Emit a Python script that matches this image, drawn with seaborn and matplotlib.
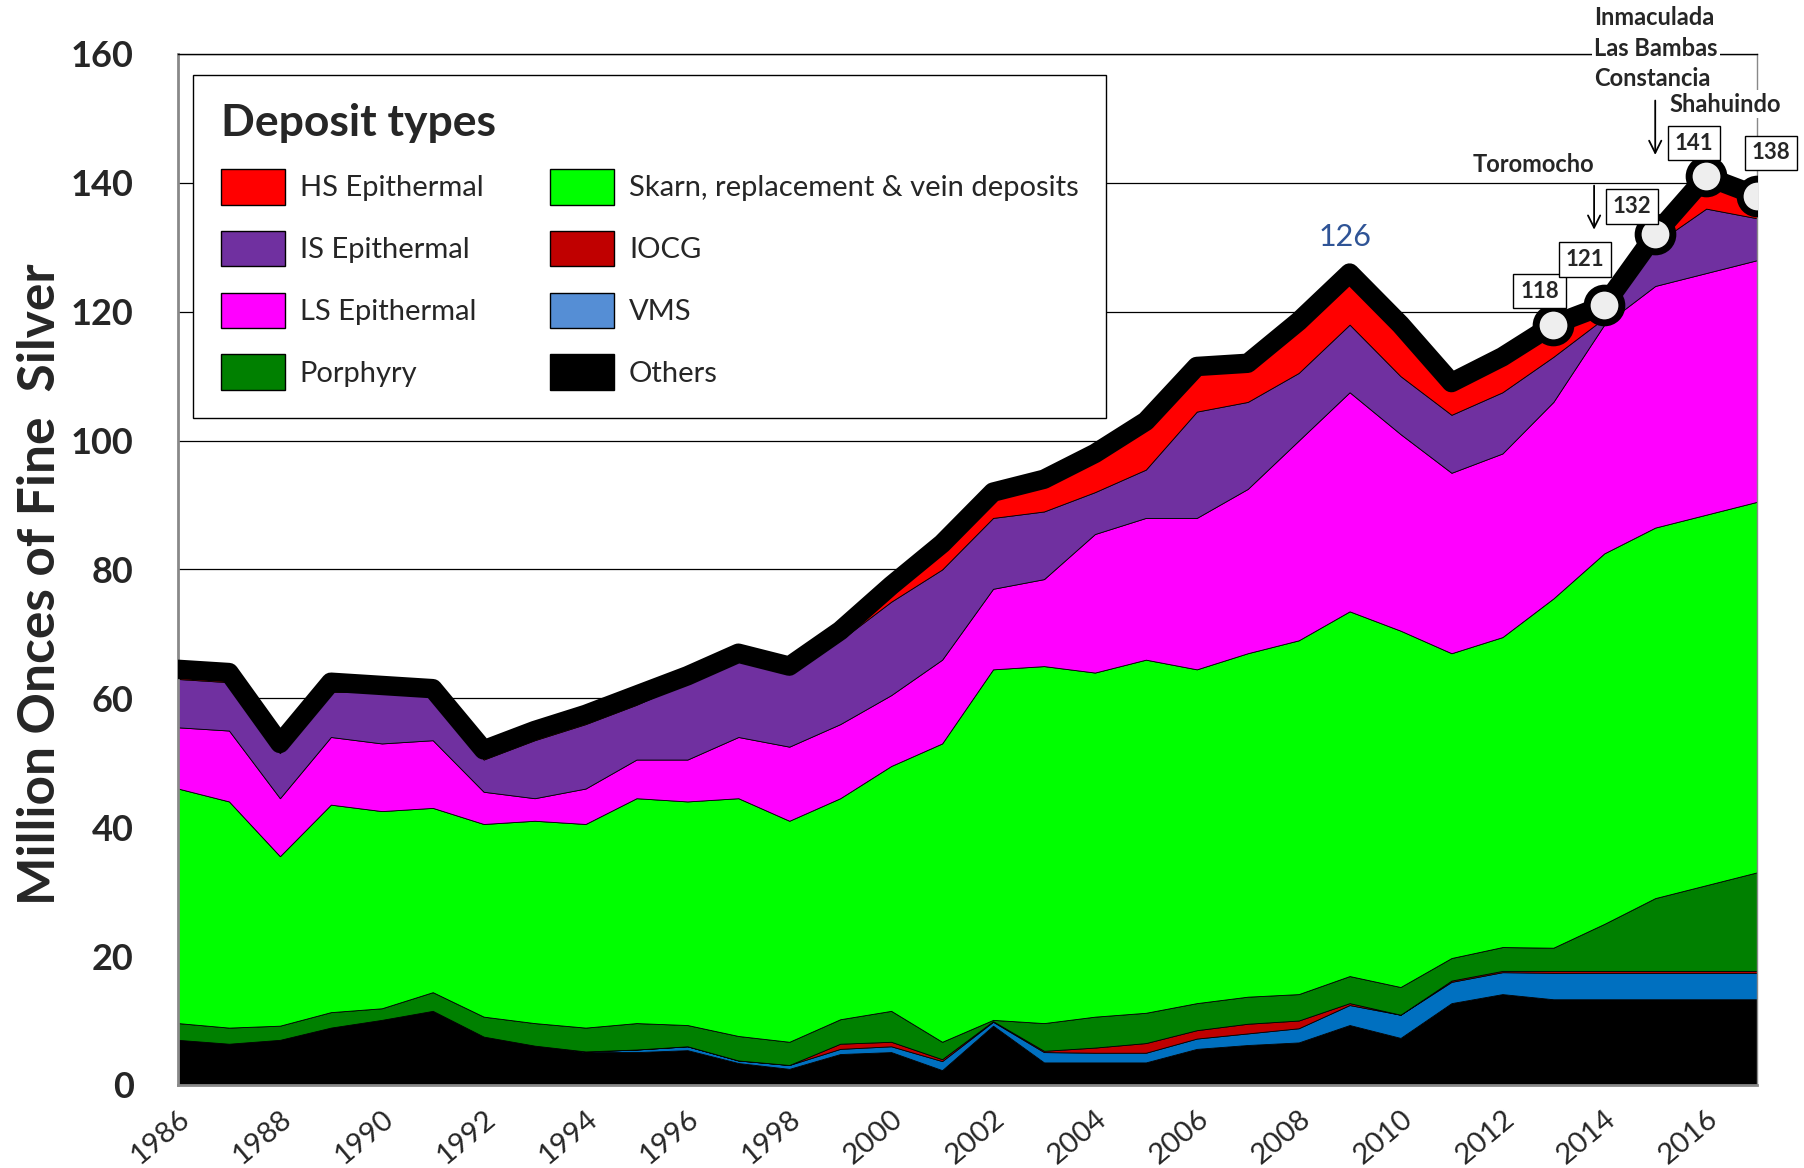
import matplotlib
matplotlib.use("Agg")
import matplotlib.pyplot as plt
from matplotlib.patches import Patch
import seaborn as sns

# Peruvian silver production by deposit type (million ounces)
years = list(range(1986, 2018))
others = [7.0, 6.4, 7.0, 8.9, 10.1, 11.5, 7.5, 6.1, 5.1, 5.1, 5.4, 3.4, 2.5, 4.8, 5.1, 2.3,
          9.2, 3.5, 3.5, 3.5, 5.6, 6.2, 6.6, 9.3, 7.3, 12.7, 14.1, 13.3, 13.3, 13.3, 13.3, 13.3]
vms = [0, 0, 0, 0, 0, 0, 0, 0, 0.1, 0.4, 0.6, 0.4, 0.6, 0.8, 0.9, 1.4,
       0.6, 1.6, 1.5, 1.5, 1.6, 1.8, 2.2, 3.1, 3.6, 3.3, 3.4, 4.1, 4.1, 4.1, 4.1, 4.1]
iocg = [0, 0, 0, 0, 0, 0, 0, 0, 0, 0, 0, 0, 0, 0.8, 0.7, 0.3,
        0.1, 0.2, 0.8, 1.5, 1.3, 1.5, 1.2, 0.3, 0, 0.2, 0.2, 0.3, 0.3, 0.3, 0.3, 0.3]
porphyry = [2.6, 2.5, 2.2, 2.4, 1.8, 2.9, 3.1, 3.5, 3.7, 4.1, 3.3, 3.8, 3.6, 3.8, 4.8, 2.7,
            0.2, 4.3, 4.8, 4.7, 4.2, 4.2, 4.1, 4.2, 4.3, 3.5, 3.7, 3.6, 7.3, 11.3, 13.3, 15.3]
skarn = [36.4, 35.1, 26.3, 32.2, 30.6, 28.6, 29.9, 31.4, 31.6, 34.9, 34.7, 36.9, 34.3, 34.3, 38.0, 46.3,
         54.4, 55.4, 53.4, 54.8, 51.8, 53.3, 54.9, 56.6, 55.3, 47.3, 48.1, 54.2, 57.5, 57.5, 57.5, 57.5]
ls_epi = [9.5, 11, 9, 10.5, 10.5, 10.5, 5, 3.5, 5.5, 6, 6.5, 9.5, 11.5, 11.5, 11, 13,
          12.5, 13.5, 21.5, 22, 23.5, 25.5, 31, 34, 30.5, 28, 28.5, 30.5, 35.5, 37.5, 37.5, 37.5]
is_epi = [7.5, 7.5, 7, 7, 8, 7, 5, 9, 10, 8.5, 12, 12, 11.5, 13, 14.5, 14,
          11, 10.5, 6.5, 7.5, 16.5, 13.5, 10.5, 10.5, 9, 9, 9.5, 7, 1, 6.5, 10, 6.5]
hs_epi = [1.5, 1.5, 1.5, 1.5, 1, 1, 1.5, 1.5, 1.5, 1.5, 1, 1, 1, 1.5, 2.5, 4,
          4, 5, 6, 7.5, 7, 6, 8, 8, 8, 5, 5.5, 5, 2, 1.5, 5, 3.5]

layers = [others, vms, iocg, porphyry, skarn, ls_epi, is_epi, hs_epi]
total = [sum(v) for v in zip(*layers)]

# legend order (column by column) and colours
legend_names = ["HS Epithermal", "IS Epithermal", "LS Epithermal", "Porphyry",
                "Skarn, replacement & vein deposits", "IOCG", "VMS", "Others"]
legend_colors = ["#FF0000", "#7030A0", "#FF00FF", "#008000",
                 "#00FF00", "#C00000", "#558ED5", "#000000"]
layer_colors = ["#000000", "#0070C0", "#C00000", "#008000",
                "#00FF00", "#FF00FF", "#7030A0", "#FF0000"]

recent_years = years[-5:]
recent_total = total[-5:]
label_offsets = [(-10, 24), (-14, 33), (-17, 20), (-9, 24), (10, 31)]

sns.set_style("white")
plt.rcParams["font.family"] = ["Lato", "DejaVu Sans"]

fig = plt.figure(figsize=(18.04, 11.68), dpi=100)
ax = fig.add_axes([0.0987, 0.0711, 0.8753, 0.8827])

ax.stackplot(years, *layers, colors=layer_colors, edgecolor="black", linewidth=0.6, zorder=2)

# total line with thick black outline
sns.lineplot(x=years, y=total, color="black", lw=14, ax=ax, legend=False,
             solid_joinstyle="round", zorder=3)
ax.plot(recent_years, recent_total, "o", ms=25, mfc="#EEEEEE", mec="black", mew=5,
        ls="none", zorder=4)

for x, y, (dx, dy) in zip(recent_years, recent_total, label_offsets):
    ax.annotate(f"{y:.0f}", (x, y), xytext=(dx, dy), textcoords="offset points",
                ha="center", va="center", fontsize=16, fontweight="bold",
                bbox=dict(boxstyle="square,pad=0.3", fc="white", ec="black", lw=1),
                zorder=6, annotation_clip=False)

peak_i = years.index(2009)
ax.annotate(f"{total[peak_i]:.0f}", (years[peak_i], total[peak_i]), xytext=(-3, 26),
            textcoords="offset points", ha="center", va="center", fontsize=22,
            color="#2F5496", zorder=6)

ax.annotate("", xy=(2013.8, 132.3), xytext=(2013.8, 140),
            arrowprops=dict(arrowstyle="->", color="black", lw=1.3, mutation_scale=22), zorder=6)
ax.text(2012.6, 142.8, "Toromocho", ha="center", va="center", fontsize=17,
        fontweight="bold", zorder=6)

ax.annotate("", xy=(2015, 143.9), xytext=(2015, 153.2),
            arrowprops=dict(arrowstyle="->", color="black", lw=1.3, mutation_scale=22), zorder=6)
ax.text(2013.8, 160.9, "Inmaculada\nLas Bambas\nConstancia", ha="left", va="center",
        fontsize=17, fontweight="bold", linespacing=1.4, zorder=6, clip_on=False,
        bbox=dict(boxstyle="square,pad=0.1", fc="white", ec="none"))
ax.text(2015.27, 152.2, "Shahuindo", ha="left", va="center", fontsize=17,
        fontweight="bold", zorder=6, clip_on=False,
        bbox=dict(boxstyle="square,pad=0.1", fc="white", ec="none"))

# axes styling
ax.set_xlim(1986, 2017)
ax.set_ylim(0, 160)
ax.set_yticks(range(0, 161, 20))
ax.set_yticklabels([str(v) for v in range(0, 161, 20)], fontsize=26, fontweight="bold")
ax.set_xticks(years)
ax.set_xticklabels([str(y) if y % 2 == 0 else "" for y in years], rotation=40,
                   ha="right", va="top", rotation_mode="anchor", fontsize=21)
ax.tick_params(axis="both", direction="out", color="#898989", width=2, length=12)
ax.tick_params(axis="y", pad=20)
ax.tick_params(axis="x", pad=3)
ax.yaxis.grid(True, color="black", lw=0.9)
ax.set_axisbelow(True)
for side in ["left", "bottom"]:
    ax.spines[side].set_color("#898989")
    ax.spines[side].set_linewidth(2)
ax.spines["right"].set_color("#898989")
ax.spines["right"].set_linewidth(1)
ax.spines["top"].set_color("black")
ax.spines["top"].set_linewidth(1)

ax.set_ylabel("Million Onces of Fine  Silver", fontsize=37, fontweight="bold")
ax.yaxis.set_label_coords(-0.072, 0.486)

handles = [Patch(facecolor=c, edgecolor="black", label=n) for n, c in zip(legend_names, legend_colors)]
ax.legend(handles=handles, ncol=2, title="Deposit types", loc="upper left",
          bbox_to_anchor=(0.0095, 0.9796), borderaxespad=0, fontsize=21,
          title_fontproperties={"weight": "bold", "size": 32}, alignment="left",
          frameon=True, fancybox=False, edgecolor="black", framealpha=1,
          handlelength=2.2, handleheight=1.5, labelspacing=0.9, columnspacing=2.3,
          handletextpad=0.5, borderpad=0.95)

fig.savefig("out.png", dpi=100)
